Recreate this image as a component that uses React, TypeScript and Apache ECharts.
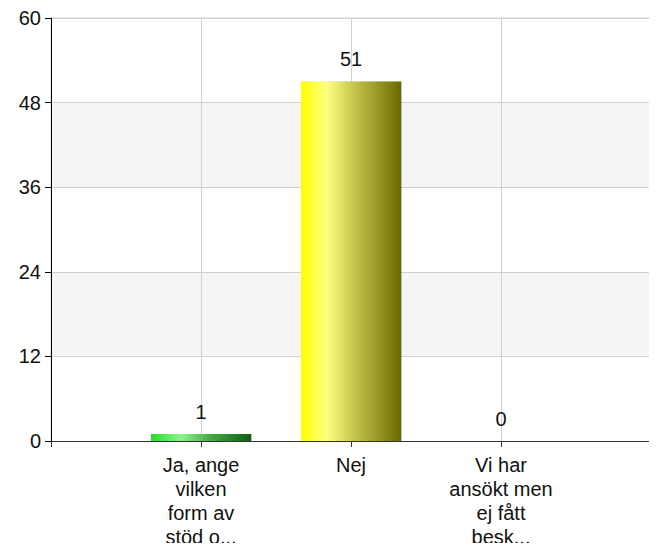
import React, { useEffect, useRef } from "react";
import * as echarts from "echarts";

const categories = ["", "Ja, ange\nvilken\nform av\nstöd o...", "Nej", "Vi har\nansökt men\nej fått\nbesk...", ""];
const values: (number | null)[] = [null, 1, 51, 0, null];
const yTicks = { min: 0, max: 60, interval: 12 };

const greenGrad = new echarts.graphic.LinearGradient(0, 0, 1, 0, [
  { offset: 0, color: "#22dd22" },
  { offset: 0.3, color: "#8cf58c" },
  { offset: 0.6, color: "#44a844" },
  { offset: 1, color: "#106010" },
]);
const yellowGrad = new echarts.graphic.LinearGradient(0, 0, 1, 0, [
  { offset: 0, color: "#ffff00" },
  { offset: 0.25, color: "#ffff80" },
  { offset: 0.6, color: "#b8b840" },
  { offset: 1, color: "#6a6a00" },
]);
const barColors = [null, greenGrad, yellowGrad, greenGrad, null];

export default function App() {
  const ref = useRef<HTMLDivElement>(null);
  useEffect(() => {
    if (!ref.current) return;
    const chart = echarts.init(ref.current, undefined, { renderer: "svg" });
    chart.setOption({
      animation: false,
      grid: {
        left: 51,
        right: 6,
        top: 18,
        bottom: 110,
        containLabel: false,
        show: true,
        borderColor: "#d0d0d0",
        borderWidth: 1,
        backgroundColor: "transparent",
      },
      xAxis: {
        type: "category",
        data: categories,
        boundaryGap: false,
        axisLine: { lineStyle: { color: "#333", width: 1 } },
        axisTick: { show: true, length: 6, lineStyle: { color: "#333" }, interval: 0 },
        axisLabel: {
          interval: 0,
          color: "#111",
          fontSize: 20,
          fontFamily: "Liberation Sans, Arial, sans-serif",
          lineHeight: 24,
          margin: 12,
          align: "center",
        },
        splitLine: {
          show: true,
          interval: 0,
          lineStyle: { color: "#d0d0d0", width: 1 },
        },
      },
      yAxis: {
        type: "value",
        min: yTicks.min,
        max: yTicks.max,
        interval: yTicks.interval,
        axisLine: { show: true, lineStyle: { color: "#000", width: 1 } },
        axisTick: { show: true, length: 6, lineStyle: { color: "#000" } },
        axisLabel: {
          color: "#111",
          fontSize: 20,
          fontFamily: "Liberation Sans, Arial, sans-serif",
          margin: 10,
        },
        splitLine: { show: true, lineStyle: { color: "#d0d0d0", width: 1 } },
        splitArea: { show: true, areaStyle: { color: ["#ffffff", "#f5f5f5"] } },
      },
      series: [
        {
          type: "bar",
          barWidth: 100,
          data: values.map((v, i) =>
            v === null
              ? null
              : {
                  value: v,
                  itemStyle: {
                    color: barColors[i],
                    borderWidth: 0,
                    shadowColor: "rgba(0,0,0,0.25)",
                    shadowOffsetX: 1,
                    shadowBlur: 0,
                  },
                }
          ),
          label: {
            show: true,
            position: "top",
            distance: 12,
            color: "#111",
            fontSize: 20,
            fontFamily: "Liberation Sans, Arial, sans-serif",
          },
        },
      ],
    });
    return () => chart.dispose();
  }, []);
  return <div ref={ref} style={{ width: 657, height: 551, margin: -8 }} />;
}
